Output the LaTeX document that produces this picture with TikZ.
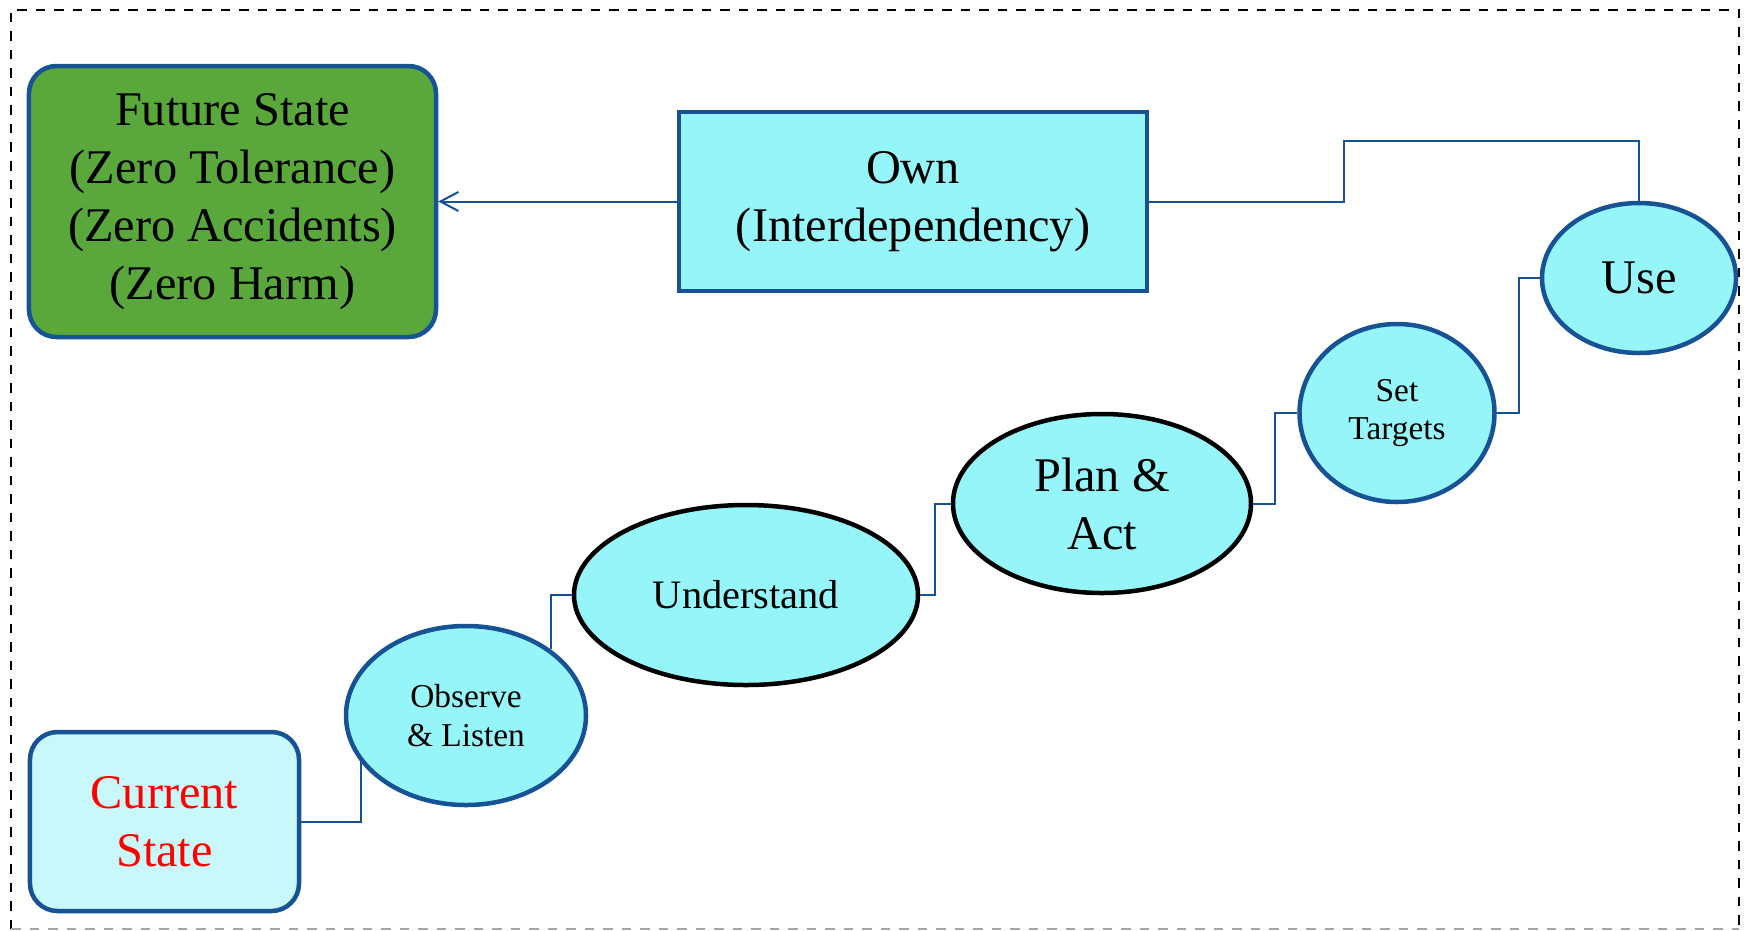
\documentclass[tikz,border=0pt]{standalone}
\usepackage{fontspec}
\setmainfont{Liberation Serif}
\usepackage{xcolor}
\usetikzlibrary{arrows.meta,shapes.geometric}
\definecolor{shapeBlue}{RGB}{22,82,148}
\definecolor{futureGreen}{RGB}{90,168,60}
\definecolor{stepCyan}{RGB}{150,245,248}
\definecolor{startCyan}{RGB}{200,248,250}
\newcommand{\bigtxt}{\fontsize{27.5}{33}\selectfont}
\newcommand{\midtxt}{\fontsize{23}{27}\selectfont}
\newcommand{\smalltxt}{\fontsize{19}{22}\selectfont}

\begin{document}
\begin{tikzpicture}[
  x=0.2mm,y=-0.2mm,
  box/.style={draw=shapeBlue,line width=0.9mm,align=center,inner sep=0pt,font=\bigtxt},
  rbox/.style={box,rounded corners=5.5mm},
  oval/.style={ellipse,draw=shapeBlue,fill=stepCyan,line width=0.9mm,align=center,inner sep=0pt},
  boval/.style={oval,draw=black},
  link/.style={draw=shapeBlue,line width=0.4mm},
  frame/.style={line width=0.55mm,dash pattern=on 1.9mm off 1.8mm}
]
\useasboundingbox[fill=white] (0,0) rectangle (1747,930);

\node[rbox,fill=futureGreen,minimum width=81.4mm,minimum height=54.2mm] (future) at (232.5,201.5) {Future State\\(Zero Tolerance)\\(Zero Accidents)\\(Zero Harm)};
\node[box,fill=stepCyan,minimum width=93.6mm,minimum height=35.8mm] (own) at (913,201.5) {Own\\(Interdependency)};
\node[oval,font=\bigtxt,minimum width=38.8mm,minimum height=30mm] (use) at (1639,278) {Use};
\node[oval,font=\smalltxt,minimum width=39mm,minimum height=35.6mm] (targets) at (1397,413) {Set\\Targets};
\node[boval,font=\bigtxt,minimum width=59.6mm,minimum height=35.8mm] (plan) at (1102,503.5) {Plan \&\\Act};
\node[boval,font=\midtxt,minimum width=68.8mm,minimum height=36mm] (underst) at (746,595) {Understand};
\node[oval,font=\smalltxt,minimum width=48mm,minimum height=35.8mm] (observe) at (466,715.5) {Observe\\\& Listen};
\node[rbox,fill=startCyan,text=red,minimum width=53.8mm,minimum height=35.8mm] (current) at (164.5,821.5) {Current\\State};

\coordinate (ownbend) at (1344,141);
\draw[link,-{Straight Barb[length=3.6mm,width=3.8mm]}] (own.west) -- (future.east);
\draw[link] (own.east) -| (ownbend) -| (use.north);
\draw[link] (targets.east) -- ++(22,0) |- (use.west);
\draw[link] (plan.east) -- ++(22,0) |- (targets.west);
\draw[link] (underst.east) -- ++(15,0) |- (plan.west);
\draw[link] (underst.west) -| (observe.38);
\draw[link] (current.east) -| (observe.204);

\draw[frame] (11,929) -- (11,10) -- (1739,10) -- (1739,929);
\draw[frame,gray!70] (11,929) -- (1739,929);
\end{tikzpicture}
\end{document}
